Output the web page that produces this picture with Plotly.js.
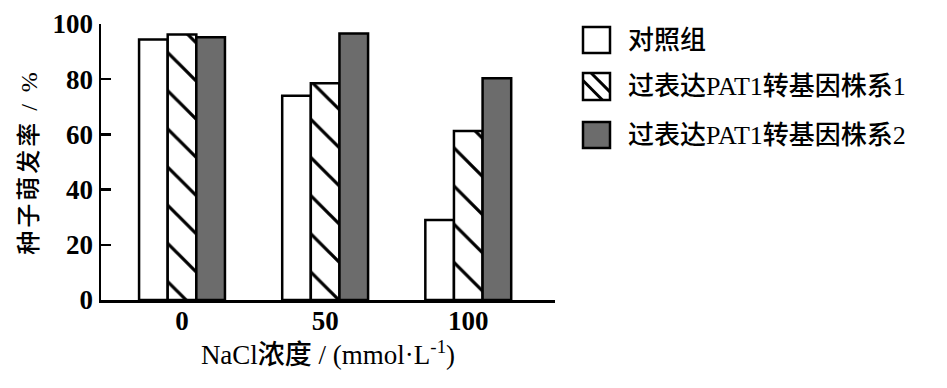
<!DOCTYPE html>
<html>
<head>
<meta charset="utf-8">
<script src="https://cdn.plot.ly/plotly-3.0.1.min.js"></script>
<style>
  html, body { margin: 0; padding: 0; background: #fff; }
  #chart { width: 947px; height: 388px; }
  .ytitle { letter-spacing: 3px; }
</style>
</head>
<body>
<div id="chart"></div>
<script>
// ---- data ----
const categories = ["0", "50", "100"];
const seriesNames = ["对照组", "过表达PAT1转基因株系1", "过表达PAT1转基因株系2"];
const controlValues = [94.4, 74.0, 29.0];
const line1Values = [96.2, 78.5, 61.2];
const line2Values = [95.2, 96.6, 80.3];
const yTickVals = [0, 20, 40, 60, 80, 100];
const xAxisTitle = "NaCl浓度 / (mmol·L<sup>-1</sup>)";
const yAxisTitle = "种子萌发率 / %";

// ---- layout geometry (pixels) ----
const W = 947, H = 388;
const plotL = 101, plotR = 555, plotT = 24, plotB = 300;
const px2x = p => (p - plotL) / (plotR - plotL);
const py2y = p => (plotB - p) / (plotB - plotT);

const FONT = "Liberation Serif, 'Noto Sans CJK SC', serif";
const GRAY = "#6c6c6c";
const LW = 2.5;
const TXT_W = 500;

const traces = [
  {
    type: "bar", name: seriesNames[0], x: categories, y: controlValues,
    marker: { color: "#ffffff", line: { color: "#000", width: LW } },
    showlegend: false, hoverinfo: "x+y+name"
  },
  {
    type: "bar", name: seriesNames[1], x: categories, y: line1Values,
    marker: {
      color: "#ffffff",
      line: { color: "#000", width: LW },
      pattern: { shape: "\\", fgcolor: "#000", bgcolor: "#ffffff", size: 27, solidity: 0.12, fillmode: "replace" }
    },
    showlegend: false, hoverinfo: "x+y+name"
  },
  {
    type: "bar", name: seriesNames[2], x: categories, y: line2Values,
    marker: { color: GRAY, line: { color: "#000", width: LW } },
    showlegend: false, hoverinfo: "x+y+name"
  }
];

// ---- manual legend (large boxes like the reference) ----
const boxX0 = 583, boxX1 = 610;
const rows = [[27, 53], [73, 100], [122, 148]];
const shapes = [];
const annotations = [];
const fills = ["#ffffff", "#ffffff", GRAY];
rows.forEach((r, i) => {
  shapes.push({
    type: "rect", xref: "paper", yref: "paper",
    x0: px2x(boxX0), x1: px2x(boxX1), y0: py2y(r[1]), y1: py2y(r[0]),
    fillcolor: fills[i], line: { color: "#000", width: LW }
  });
  annotations.push({
    xref: "paper", yref: "paper", x: px2x(626), y: py2y((r[0] + r[1]) / 2),
    xanchor: "left", yanchor: "middle", showarrow: false,
    text: seriesNames[i], font: { family: FONT, size: 26, color: "#000", weight: TXT_W }
  });
});
// hatch lines inside the second legend box
{
  const [t, b] = rows[1];
  const w = boxX1 - boxX0, h = b - t;
  const segs = [
    [boxX0, t + 0.28 * h, boxX0 + 0.72 * w, b],
    [boxX0 + 0.3 * w, t, boxX1, t + 0.7 * h]
  ];
  segs.forEach(s => shapes.push({
    type: "line", xref: "paper", yref: "paper",
    x0: px2x(s[0]), y0: py2y(s[1]), x1: px2x(s[2]), y1: py2y(s[3]),
    line: { color: "#000", width: 3 }
  }));
}

const layout = {
  width: W, height: H,
  margin: { l: plotL, r: W - plotR, t: plotT, b: H - plotB, pad: 0 },
  paper_bgcolor: "#fff", plot_bgcolor: "#fff",
  font: { family: FONT, color: "#000", size: 26, weight: TXT_W },
  barmode: "group", bargap: 0.4, bargroupgap: 0,
  showlegend: false,
  xaxis: {
    type: "category",
    range: [-0.566, 2.606],
    showline: true, linecolor: "#000", linewidth: LW,
    ticks: "", showgrid: false, zeroline: false,
    tickfont: { family: FONT, size: 27, color: "#000", weight: "bold" },
    ticklabelstandoff: -5,
    title: { text: xAxisTitle, font: { family: FONT, size: 27, color: "#000", weight: TXT_W }, standoff: 8 }
  },
  yaxis: {
    range: [0, 100],
    tickvals: yTickVals,
    showline: true, linecolor: "#000", linewidth: LW,
    ticks: "inside", ticklen: 10, tickwidth: LW, tickcolor: "#000",
    showgrid: false, zeroline: false,
    tickfont: { family: FONT, size: 27, color: "#000", weight: "bold" },
    ticklabelstandoff: 0,
    title: { text: yAxisTitle, font: { family: FONT, size: 24, color: "#000", weight: TXT_W }, standoff: 8 }
  },
  shapes: shapes,
  annotations: annotations
};

Plotly.newPlot("chart", traces, layout, { staticPlot: true, displayModeBar: false });
</script>
</body>
</html>
